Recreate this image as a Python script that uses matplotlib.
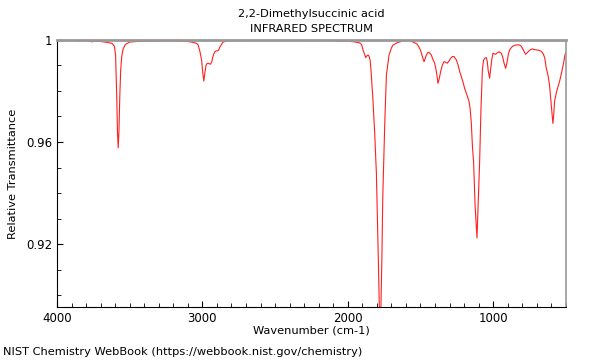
import numpy as np
import matplotlib
matplotlib.use("Agg")
import matplotlib.pyplot as plt
from matplotlib.ticker import MultipleLocator

# === Spectrum data ===
wavenumber = [
    4000, 3950, 3900, 3850, 3800, 3760, 3740, 3700, 3650, 3620,
    3605, 3597, 3590, 3584, 3579, 3574, 3568, 3562, 3555, 3545,
    3530, 3500, 3450, 3400, 3300, 3200, 3100, 3060, 3038, 3029,
    3017, 3005, 2997, 2990, 2983, 2975, 2967, 2960, 2950, 2944,
    2935, 2925, 2914, 2905, 2898, 2888, 2880, 2868, 2857, 2830,
    2800, 2700, 2600, 2500, 2400, 2300, 2200, 2100, 2050, 2000,
    1960, 1930, 1917, 1905, 1895, 1885, 1876, 1868, 1860, 1853,
    1846, 1840, 1828, 1815, 1803, 1790, 1777, 1765, 1759, 1745,
    1734, 1716, 1700, 1689, 1656, 1620, 1586, 1560, 1540, 1525,
    1512, 1500, 1493, 1484, 1475, 1466, 1459, 1450, 1443, 1435,
    1425, 1415, 1402, 1390, 1379, 1370, 1361, 1350, 1338, 1325,
    1315, 1303, 1292, 1280, 1269, 1260, 1253, 1240, 1230, 1218,
    1208, 1196, 1184, 1175, 1166, 1158, 1150, 1142, 1134, 1124,
    1111, 1100, 1093, 1084, 1074, 1066, 1058, 1047, 1040, 1034,
    1024, 1018, 1010, 1001, 990, 983, 970, 960, 950, 944,
    935, 925, 914, 905, 895, 886, 875, 864, 845, 823,
    810, 799, 790, 777, 765, 754, 742, 731, 720, 703,
    690, 669, 655, 645, 634, 622, 612, 605, 599, 593,
    589, 584, 577, 566, 555, 543, 526, 515, 508, 502,
]
transmittance = [
    0.9998, 0.9997, 0.9998, 0.9996, 0.9997, 0.9993, 0.9995, 0.9994, 0.9990, 0.9986,
    0.9975, 0.9940, 0.9800, 0.9640, 0.9577, 0.9640, 0.9780, 0.9880, 0.9935, 0.9965,
    0.9982, 0.9992, 0.9994, 0.9995, 0.9996, 0.9996, 0.9994, 0.9990, 0.9986, 0.9980,
    0.9955, 0.9920, 0.9870, 0.9839, 0.9870, 0.9900, 0.9908, 0.9909, 0.9906, 0.9905,
    0.9915, 0.9940, 0.9954, 0.9957, 0.9957, 0.9960, 0.9972, 0.9983, 0.9992, 0.9996,
    0.9998, 0.9998, 0.9999, 0.9998, 0.9999, 0.9998, 0.9998, 0.9997, 0.9995, 0.9995,
    0.9993, 0.9990, 0.9988, 0.9982, 0.9961, 0.9945, 0.9931, 0.9938, 0.9941, 0.9936,
    0.9920, 0.9880, 0.9778, 0.9640, 0.9478, 0.9150, 0.8800, 0.9150, 0.9386, 0.9680,
    0.9863, 0.9941, 0.9968, 0.9980, 0.9990, 0.9996, 0.9998, 0.9994, 0.9989, 0.9985,
    0.9974, 0.9960, 0.9948, 0.9930, 0.9915, 0.9930, 0.9941, 0.9950, 0.9952, 0.9948,
    0.9941, 0.9925, 0.9909, 0.9875, 0.9830, 0.9850, 0.9876, 0.9900, 0.9915, 0.9912,
    0.9909, 0.9918, 0.9928, 0.9935, 0.9935, 0.9928, 0.9922, 0.9900, 0.9876, 0.9855,
    0.9837, 0.9810, 0.9791, 0.9775, 0.9760, 0.9730, 0.9675, 0.9580, 0.9518, 0.9350,
    0.9224, 0.9400, 0.9518, 0.9720, 0.9882, 0.9920, 0.9928, 0.9931, 0.9915, 0.9880,
    0.9850, 0.9880, 0.9920, 0.9948, 0.9945, 0.9944, 0.9950, 0.9954, 0.9950, 0.9948,
    0.9935, 0.9910, 0.9889, 0.9910, 0.9945, 0.9961, 0.9970, 0.9976, 0.9980, 0.9981,
    0.9978, 0.9968, 0.9958, 0.9944, 0.9950, 0.9957, 0.9962, 0.9965, 0.9963, 0.9961,
    0.9960, 0.9956, 0.9945, 0.9930, 0.9889, 0.9860, 0.9824, 0.9780, 0.9740, 0.9700,
    0.9673, 0.9700, 0.9760, 0.9791, 0.9815, 0.9837, 0.9880, 0.9910, 0.9935, 0.9950,
]
x_ticks = [4000, 3000, 2000, 1000]
y_ticks = [0.92, 0.96, 1.0]
y_tick_labels = ["0.92", "0.96", "1"]

# === Figure ===
fig = plt.figure(figsize=(6, 3.6), dpi=100)
ax = fig.add_axes([0.095, 0.147, 0.848, 0.742])

ax.plot(wavenumber, transmittance, color="#ff2020", lw=0.8)

ax.set_xlim(4000, 500)
ax.set_ylim(0.8953, 1.0)

ax.set_xticks(x_ticks)
ax.xaxis.set_minor_locator(MultipleLocator(100))
ax.set_yticks(y_ticks)
ax.set_yticklabels(y_tick_labels)
ax.yaxis.set_minor_locator(MultipleLocator(0.01))
ax.tick_params(which="both", direction="in", labelsize=8.5, top=False, right=False)
ax.tick_params(which="major", length=4)
ax.tick_params(which="minor", length=3)

for side in ["top", "right"]:
    ax.spines[side].set_color("#999999")
ax.spines["top"].set_linewidth(2)
ax.spines["right"].set_linewidth(1.2)

ax.set_xlabel("Wavenumber (cm-1)", fontsize=8.2, labelpad=0.5)
ax.set_ylabel("Relative Transmittance", fontsize=8.2, labelpad=6)

# titles centred over the plot area
cx = 0.095 + 0.848 / 2
fig.text(cx, 0.961, "2,2-Dimethylsuccinic acid", ha="center", va="center", fontsize=8.2)
fig.text(cx, 0.919, "INFRARED SPECTRUM", ha="center", va="center", fontsize=8.2)
fig.text(0.005, 0.022, "NIST Chemistry WebBook (https://webbook.nist.gov/chemistry)",
         ha="left", va="center", fontsize=8.2)

fig.savefig("out.png", dpi=100)
